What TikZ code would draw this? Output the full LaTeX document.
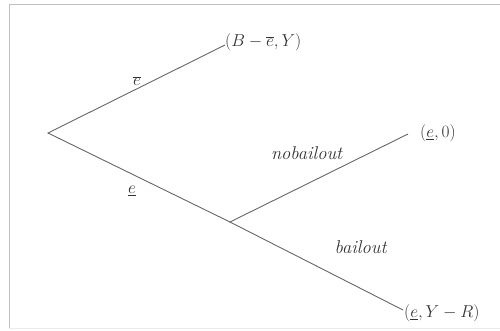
\documentclass[tikz,border=0pt]{standalone}
\begin{document}
\begin{tikzpicture}[x=1pt,y=-1pt,
  branch/.style={draw=black!60,line width=0.9pt},
  lbl/.style={inner sep=0pt,font=\fontsize{18.5}{22}\selectfont,text=black!80},
  frame/.style={draw=black!25,line width=1pt}]
\useasboundingbox (0,0) rectangle (500,330);
\draw[frame] (500,4.5) -- (9,4.5) -- (9,328);
\draw[draw=black!8,line width=0.8pt] (9,328) -- (500,328);
\coordinate (r) at (48,133);
\coordinate (t) at (225,45);
\coordinate (m) at (230,222);
\coordinate (u) at (408,134);
\coordinate (d) at (403,310);
\node[lbl,anchor=west] (tl) at (225,42) {$(B-\overline{e},Y)$};
\node[lbl,anchor=west] (ul) at (420,133) {$(\underline{e},0)$};
\node[lbl,anchor=west] (dl) at (404,313) {$(\underline{e},Y-R)$};
\draw[branch] (t) -- (r) -- (m);
\draw[branch] (u) -- (m) -- (d);
\node[lbl] (eb) at (137,81) {$\overline{e}$};
\node[lbl] (eu) at (132,191) {$\underline{e}$};
\node[lbl] (nb) at (307,153) {\textit{nobailout}};
\node[lbl] (bo) at (361,247) {\textit{bailout}};
\end{tikzpicture}
\end{document}
